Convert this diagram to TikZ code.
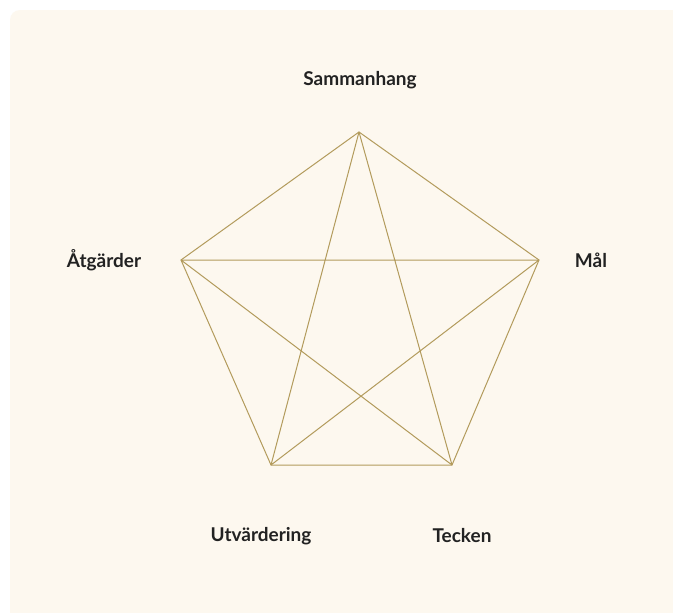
\documentclass[tikz,border=0pt]{standalone}
\usepackage{fontspec}
\setmainfont{Lato}
\definecolor{cream}{HTML}{FDF8EF}
\definecolor{gold}{HTML}{B39B5C}
\definecolor{ink}{HTML}{222222}
\begin{document}
\begin{tikzpicture}[x=1pt,y=-1pt,
  edge/.style={draw=gold,line width=1pt},
  lab/.style={font=\bfseries\fontsize{19}{22}\selectfont,text=ink}]
\useasboundingbox (0,0) rectangle (673,613);
\fill[white] (0,0) rectangle (673,613);
\begin{scope}
\clip (0,0) rectangle (673,613);
\fill[cream,rounded corners=10pt] (10,10) rectangle (683,623);
\end{scope}
\coordinate (S) at (359,132);
\coordinate (A) at (181,260);
\coordinate (M) at (539,260);
\coordinate (U) at (271,465);
\coordinate (T) at (452,465);
\draw[edge] (S) -- (M) -- (T) -- (U) -- (A) -- cycle;
\draw[edge] (S) -- (U) (S) -- (T) (A) -- (M) (A) -- (T) (M) -- (U);
\node[lab] (ls) at (360,80) {Sammanhang};
\node[lab] (la) at (104,260) {Åtgärder};
\node[lab] (lm) at (591,260) {Mål};
\node[lab] (lu) at (261,536) {Utvärdering};
\node[lab] (lt) at (462,536) {Tecken};
\end{tikzpicture}
\end{document}
